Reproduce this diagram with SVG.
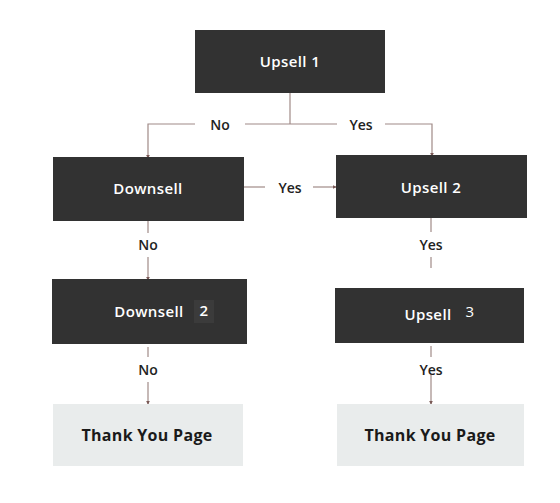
<svg xmlns="http://www.w3.org/2000/svg" width="560" height="503" viewBox="0 0 560 503">
<defs>
<marker id="ah" viewBox="0 0 6 6" refX="5" refY="3" markerWidth="4" markerHeight="4" orient="auto" markerUnits="userSpaceOnUse">
<path d="M0,0 L6,3 L0,6 z" fill="#7a5a57"/>
</marker>
<style>
.dark{fill:#323232}
.light{fill:#e9ecec}
.wt{fill:#ffffff;font-family:"Open Sans","Liberation Sans",sans-serif;font-size:15px;font-weight:600;letter-spacing:0.4px;text-anchor:middle;dominant-baseline:central}
.bt{fill:#1a1a1a;font-family:"Open Sans","Liberation Sans",sans-serif;font-size:16px;font-weight:700;letter-spacing:0.3px;text-anchor:middle;dominant-baseline:central}
.lb{fill:#222222;font-family:"Open Sans","Liberation Sans",sans-serif;font-size:14px;font-weight:600;text-anchor:middle;dominant-baseline:central}
.ln{fill:none;stroke:#a08a87;stroke-width:1.2}
</style>
</defs>
<rect width="560" height="503" fill="#ffffff"/>
<g id="connectors">
<path class="ln" d="M290,93 V124"/>
<path class="ln" d="M195,124 H148 V158" marker-end="url(#ah)"/>
<path class="ln" d="M245,124 H337"/>
<path class="ln" d="M385,124 H432 V156" marker-end="url(#ah)"/>
<path class="ln" d="M244,187 H265"/>
<path class="ln" d="M313,187 H336" marker-end="url(#ah)"/>
<path class="ln" d="M148,221 V233"/>
<path class="ln" d="M148,257 V280" marker-end="url(#ah)"/>
<path class="ln" d="M431,218 V232"/>
<path class="ln" d="M431,257 V268"/>
<path class="ln" d="M148,347 V357"/>
<path class="ln" d="M148,382 V404" marker-end="url(#ah)"/>
<path class="ln" d="M431,346 V357"/>
<path class="ln" d="M431,374 V404" marker-end="url(#ah)"/>
<text class="lb" x="220" y="124">No</text>
<text class="lb" x="361" y="124">Yes</text>
<text class="lb" x="290" y="187">Yes</text>
<text class="lb" x="148" y="244">No</text>
<text class="lb" x="431" y="244">Yes</text>
<text class="lb" x="148" y="369">No</text>
<text class="lb" x="431" y="369">Yes</text>
</g>
<g id="upsell1">
<rect class="dark" x="195" y="30" width="190" height="63"/>
<text class="wt" x="290" y="61">Upsell 1</text>
</g>
<g id="downsell">
<rect class="dark" x="53" y="157" width="191" height="64"/>
<text class="wt" x="148" y="188">Downsell</text>
</g>
<g id="upsell2">
<rect class="dark" x="336" y="155" width="191" height="63"/>
<text class="wt" x="431" y="187">Upsell 2</text>
</g>
<g id="downsell2">
<rect class="dark" x="52" y="279" width="195" height="65"/>
<rect x="194" y="300" width="20" height="23" fill="#3b3b3b"/>
<text class="wt" x="149" y="311">Downsell</text>
<text class="wt" x="204" y="310">2</text>
</g>
<g id="upsell3">
<rect class="dark" x="335" y="288" width="189" height="55"/>
<text class="wt" x="428" y="314">Upsell</text>
<text class="wt" x="470" y="311" style="font-weight:400">3</text>
</g>
<g id="thankyou1">
<rect class="light" x="53" y="404" width="190" height="62"/>
<text class="bt" x="147" y="435">Thank You Page</text>
</g>
<g id="thankyou2">
<rect class="light" x="337" y="404" width="187" height="62"/>
<text class="bt" x="430" y="435">Thank You Page</text>
</g>
</svg>
